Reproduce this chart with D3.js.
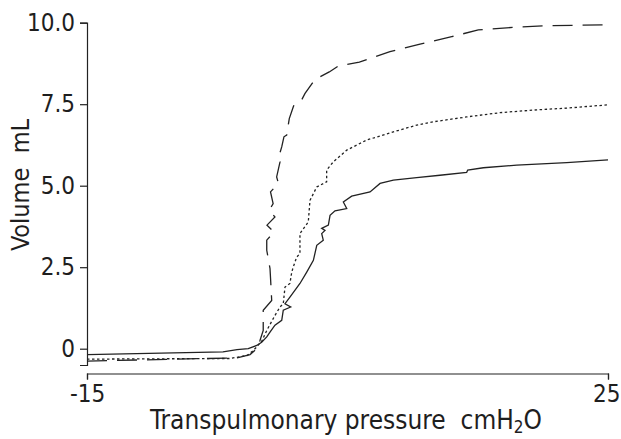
<!DOCTYPE html>
<html>
<head>
<meta charset="utf-8">
<script src="https://cdn.jsdelivr.net/npm/d3@7"></script>
<style>
  body { margin: 0; background: #fff; }
  svg text { font-family: "DejaVu Sans Condensed", "Liberation Sans Narrow", sans-serif; fill: #1e1e1e; }
</style>
</head>
<body>
<div id="chart"></div>
<script>
// pressure (cmH2O) / volume (mL) pairs
var solidP = [-15, -4.56, -3.48, -2.62, -1.97, -1.59, -1.20, -0.95, -0.57, -0.05, 0.07, 0.64, 0.20, 0.58, 1.35, 1.87, 2.38, 2.64, 3.14, 3.02, 3.27, 3.02, 3.53, 3.66, 4.04, 4.94, 4.68, 5.32, 6.73, 7.50, 8.52, 10.31, 12.10, 14.15, 14.23, 15.43, 17.99, 21.83, 25];
var solidV = [-0.18, -0.10, -0.03, 0.0, 0.10, 0.20, 0.36, 0.51, 0.72, 0.87, 1.18, 1.28, 1.38, 1.58, 2.00, 2.35, 2.71, 3.17, 3.33, 3.53, 3.63, 3.69, 3.79, 4.09, 4.23, 4.30, 4.50, 4.68, 4.81, 5.07, 5.17, 5.25, 5.32, 5.41, 5.48, 5.55, 5.63, 5.71, 5.79];

var dotP = [-15, -4.02, -2.72, -2.26, -1.87, -1.56, -1.20, -0.57, -0.18, 0.07, 0.20, 0.58, 0.72, 0.84, 1.10, 1.35, 1.35, 1.99, 2.12, 2.64, 3.40, 3.40, 3.91, 4.94, 6.47, 8.52, 10.31, 11.59, 14.15, 16.71, 19.26, 21.83, 25];
var dotV = [-0.32, -0.30, -0.21, -0.07, 0.10, 0.25, 0.56, 1.02, 1.28, 1.38, 1.89, 2.00, 2.35, 2.51, 2.81, 2.92, 3.53, 3.89, 4.55, 4.96, 5.12, 5.48, 5.73, 6.09, 6.40, 6.65, 6.86, 6.96, 7.11, 7.24, 7.32, 7.38, 7.48];

var dashP = [-15, -3.48, -2.48, -2.10, -1.72, -1.47, -1.47, -0.82, -0.90, -0.95, -1.20, -1.20, -0.64, -1.18, -0.57, -1.00, -0.71, -0.91, -0.30, -0.44, -0.18, -0.31, -0.05, 0.12, 0.33, 0.53, 0.84, 0.89, 1.48, 1.74, 2.33, 2.50, 3.60, 4.29, 5.91, 8.26, 10.57, 13.00, 15.04, 15.43, 17.86, 20.29, 22.72, 25];
var dashV = [-0.38, -0.28, -0.18, -0.05, 0.25, 0.56, 1.18, 1.48, 2.10, 2.46, 3.02, 3.33, 3.58, 3.79, 4.04, 4.25, 4.45, 4.81, 5.07, 5.27, 5.73, 5.84, 6.19, 6.50, 6.55, 7.06, 7.42, 7.47, 7.63, 7.83, 8.16, 8.26, 8.49, 8.67, 8.79, 9.11, 9.34, 9.57, 9.78, 9.79, 9.86, 9.91, 9.92, 9.94];

var yTicks = [0, 2.5, 5, 7.5, 10];
var yTickLabels = ["0", "2.5", "5.0", "7.5", "10.0"];
var xTicks = [-15, 25];
var xTickLabels = ["-15", "25"];

var w = 621, h = 439;

var svg = d3.select("#chart").append("svg")
    .attr("width", w)
    .attr("height", h);

var x = d3.scaleLinear().domain([-15, 25]).range([87, 608]);
var y = d3.scaleLinear().domain([-0.5, 10]).range([365, 22.7]);

svg.append("g")
    .attr("transform", "translate(87,0)")
    .call(d3.axisLeft(y)
        .tickValues(yTicks)
        .tickFormat(function(d, i) { return yTickLabels[i]; })
        .tickSizeOuter(0)
        .tickSize(7)
        .tickPadding(5));

var xg = svg.append("g")
    .attr("transform", "translate(0,373.5)")
    .call(d3.axisBottom(x)
        .tickValues(xTicks)
        .tickFormat(function(d, i) { return xTickLabels[i]; })
        .tickSizeOuter(0)
        .tickSize(6)
        .tickPadding(5));

svg.selectAll(".domain, .tick line")
    .attr("stroke", "#222")
    .attr("stroke-width", 1.2);
svg.selectAll(".tick text")
    .attr("font-size", 24)
    .attr("font-family", null)
    .attr("fill", "#1e1e1e");
// last label sits flush with the right edge, as in the picture
xg.selectAll(".tick text").filter(function(d) { return d === 25; })
    .attr("text-anchor", "end")
    .attr("x", 12);

function series(px, vy) {
    return px.map(function(p, i) { return [p, vy[i]]; });
}

var line = d3.line()
    .x(function(d) { return x(d[0]); })
    .y(function(d) { return y(d[1]); });

svg.append("path")
    .datum(series(solidP, solidV))
    .attr("fill", "none")
    .attr("stroke", "#222")
    .attr("stroke-width", 1.3)
    .attr("d", line);

svg.append("path")
    .datum(series(dotP, dotV))
    .attr("fill", "none")
    .attr("stroke", "#222")
    .attr("stroke-width", 1.3)
    .attr("stroke-dasharray", "2.5,2.5")
    .attr("d", line);

svg.append("path")
    .datum(series(dashP, dashV))
    .attr("fill", "none")
    .attr("stroke", "#222")
    .attr("stroke-width", 1.3)
    .attr("stroke-dasharray", "20,10")
    .attr("d", line);

// axis titles
svg.append("text")
    .attr("transform", "translate(29,185) rotate(-90)")
    .attr("text-anchor", "middle")
    .attr("font-size", 25)
    .style("white-space", "pre")
    .text("Volume  mL");

var xt = svg.append("text")
    .attr("x", 346)
    .attr("y", 429)
    .attr("text-anchor", "middle")
    .attr("font-size", 26)
    .style("white-space", "pre");
xt.append("tspan").text("Transpulmonary pressure  cmH");
xt.append("tspan").attr("font-size", 17).attr("dy", 4).text("2");
xt.append("tspan").attr("dy", -4).text("O");
</script>
</body>
</html>
